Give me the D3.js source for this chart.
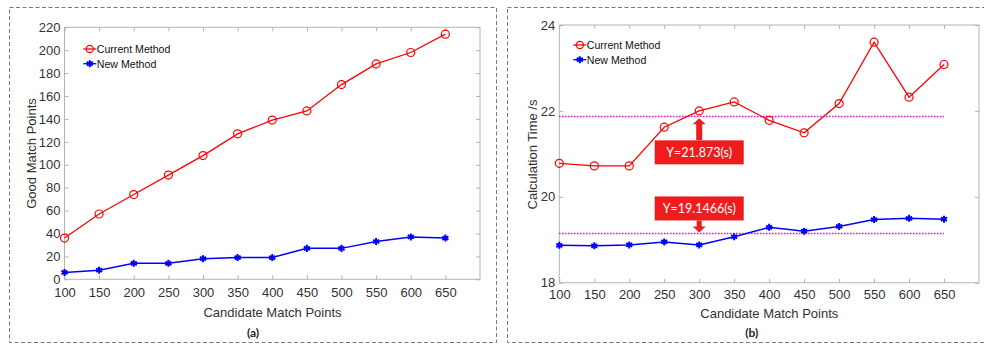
<!DOCTYPE html>
<html>
<head>
<meta charset="utf-8">
<script src="https://cdn.jsdelivr.net/npm/d3@7/dist/d3.min.js"></script>
<style>
  html, body { margin: 0; padding: 0; background: #fff; }
  svg { display: block; }
</style>
</head>
<body>
<svg id="chart" width="984" height="344"></svg>
<script>
// Candidate match points on the x axis (shared by both panels)
const candidatePoints = [100, 150, 200, 250, 300, 350, 400, 450, 500, 550, 600, 650];
const xTickLabels = [100, 150, 200, 250, 300, 350, 400, 450, 500, 550, 600, 650];

// Panel (a): good match points
const goodCurrent = [36, 57, 74, 91, 108, 127, 139, 147, 170, 188, 198, 214];
const goodNew = [6, 8, 14, 14, 18, 19, 19, 27, 27, 33, 37, 36];
const goodTicks = [0, 20, 40, 60, 80, 100, 120, 140, 160, 180, 200, 220];

// Panel (b): calculation time in seconds
const timeCurrent = [20.78, 20.72, 20.72, 21.62, 22.00, 22.21, 21.78, 21.49, 22.17, 23.60, 22.32, 23.08];
const timeNew = [18.87, 18.86, 18.88, 18.95, 18.88, 19.07, 19.29, 19.20, 19.31, 19.47, 19.50, 19.48];
const timeTicks = [18, 20, 22, 24];

// Average times marked on panel (b)
const timeCurrentMean = 21.873;
const timeNewMean = 19.1466;

const seriesNames = ["Current Method", "New Method"];

const svg = d3.select("#chart");
const RED = "#ff0000", BLUE = "#0000ff", AXIS = "#b4b4b4";
const TEXT_FONT = "'Liberation Sans', Arial, sans-serif";

// Dashed frames around the two sub-figures
svg.append("rect").attr("x", 9.5).attr("y", 7.5).attr("width", 487).attr("height", 335)
  .attr("fill", "none").attr("stroke", "#7a7a7a").attr("stroke-width", 1).attr("stroke-dasharray", "4,2.5");
svg.append("rect").attr("x", 507.5).attr("y", 7.5).attr("width", 490).attr("height", 335)
  .attr("fill", "none").attr("stroke", "#7a7a7a").attr("stroke-width", 1).attr("stroke-dasharray", "4,2.5");

function styleAxis(sel) {
  sel.attr("font-family", TEXT_FONT).attr("font-size", 13);
  sel.select(".domain").remove();
  sel.selectAll(".tick line").attr("stroke", AXIS);
  sel.selectAll(".tick text").attr("fill", "#333");
}

function drawPanel(cfg) {
  const g = svg.append("g");
  const x = d3.scaleLinear().domain([100, 700]).range([cfg.left, cfg.right]);
  const y = d3.scaleLinear().domain(cfg.yDomain).range([cfg.bottom, cfg.top]);
  const w = cfg.right - cfg.left, h = cfg.bottom - cfg.top;
  const fmt = d3.format("d");

  // plot box
  g.append("rect").attr("x", cfg.left).attr("y", cfg.top).attr("width", w).attr("height", h)
    .attr("fill", "#fff").attr("stroke", AXIS).attr("stroke-width", 1);

  // bottom axis with inward ticks
  g.append("g").attr("transform", `translate(0,${cfg.bottom})`)
    .call(d3.axisBottom(x).tickValues(xTickLabels).tickSizeInner(-4).tickSizeOuter(0).tickPadding(cfg.xPad).tickFormat(fmt))
    .call(styleAxis);

  // top ticks
  g.append("g").attr("transform", `translate(0,${cfg.top})`)
    .call(d3.axisTop(x).tickValues(xTickLabels).tickSizeInner(-4).tickSizeOuter(0).tickFormat(""))
    .call(styleAxis);

  // left axis
  g.append("g").attr("transform", `translate(${cfg.left},0)`)
    .call(d3.axisLeft(y).tickValues(cfg.yTicks).tickSizeInner(-4).tickSizeOuter(0).tickPadding(4).tickFormat(fmt))
    .call(styleAxis);

  // right ticks
  g.append("g").attr("transform", `translate(${cfg.right},0)`)
    .call(d3.axisRight(y).tickValues(cfg.yTicks).tickSizeInner(-4).tickSizeOuter(0).tickFormat(""))
    .call(styleAxis);

  // axis titles
  g.append("text").attr("x", cfg.xTitleX).attr("y", cfg.xTitleY)
    .attr("text-anchor", "middle").attr("font-family", TEXT_FONT).attr("font-size", 13).attr("fill", "#333")
    .text("Candidate Match Points");
  g.append("text").attr("transform", `translate(${cfg.yTitleX},${cfg.yTitleY}) rotate(-90)`)
    .attr("text-anchor", "middle").attr("dy", "0.35em").attr("font-family", TEXT_FONT).attr("font-size", 13).attr("fill", "#333")
    .text(cfg.yTitle);

  // sub-figure caption
  g.append("text").attr("x", cfg.captionX).attr("y", 336.5)
    .attr("text-anchor", "middle").attr("font-family", "Lato, 'Open Sans', sans-serif").attr("font-weight", "bold")
    .attr("font-size", 12).attr("fill", "#222").text(cfg.caption);

  // mean reference lines and callouts (drawn beneath the series)
  if (cfg.means) {
    cfg.means.forEach(m => {
      const my = y(m.value);
      const ly = Math.round(my) + 0.5;
      g.append("line").attr("x1", Math.round(x(100))).attr("x2", Math.round(x(650))).attr("y1", ly).attr("y2", ly)
        .attr("stroke", "#ff00ff").attr("stroke-width", 1.3).attr("stroke-dasharray", "1.5,1.5");
      const cx = x(m.at);
      const bw = 89, bh = 24;
      let boxTop, arrow;
      if (m.dir === "up") {
        const tip = my + 2, base = my + 8;
        boxTop = my + 24;
        arrow = [[cx, tip], [cx + 6.5, base], [cx + 3, base], [cx + 3, boxTop], [cx - 3, boxTop], [cx - 3, base], [cx - 6.5, base]];
      } else {
        const tip = my - 1, base = my - 7;
        boxTop = my - 13 - bh;
        const boxBot = boxTop + bh;
        arrow = [[cx, tip], [cx + 6.5, base], [cx + 2.5, base], [cx + 2.5, boxBot], [cx - 2.5, boxBot], [cx - 2.5, base], [cx - 6.5, base]];
      }
      g.append("path").attr("d", d3.line()(arrow) + "Z").attr("fill", "#ee1c1c");
      g.append("rect").attr("x", cx - bw / 2).attr("y", boxTop).attr("width", bw).attr("height", bh).attr("fill", "#ee1c1c");
      g.append("text").attr("x", cx).attr("y", boxTop + bh / 2).attr("dy", "0.36em").attr("text-anchor", "middle")
        .attr("font-family", "Lato, 'Open Sans', sans-serif").attr("font-size", 12.5).attr("fill", "#fff")
        .text(`Y=${m.value}(s)`);
    });
  }

  const line = d3.line().x((d, i) => x(candidatePoints[i])).y(d => y(d));
  // series lines
  g.append("path").datum(cfg.current).attr("d", line).attr("fill", "none").attr("stroke", RED).attr("stroke-width", 1.3);
  g.append("path").datum(cfg.newer).attr("d", line).attr("fill", "none").attr("stroke", BLUE).attr("stroke-width", 1.5);

  // markers
  g.selectAll(null).data(cfg.current).join("circle")
    .attr("cx", (d, i) => x(candidatePoints[i])).attr("cy", d => y(d)).attr("r", 4)
    .attr("fill", "none").attr("stroke", RED).attr("stroke-width", 1.2);
  const star = d3.symbol().type(d3.symbolAsterisk).size(34);
  g.selectAll(null).data(cfg.newer).join("path")
    .attr("transform", (d, i) => `translate(${x(candidatePoints[i])},${y(d)})`)
    .attr("d", star).attr("fill", "none").attr("stroke", BLUE).attr("stroke-width", 2);

  // legend
  const lg = g.append("g");
  seriesNames.forEach((name, i) => {
    const ly = cfg.legendY + i * 14.7;
    const col = i === 0 ? RED : BLUE;
    lg.append("line").attr("x1", cfg.legendX).attr("x2", cfg.legendX + 13).attr("y1", ly).attr("y2", ly)
      .attr("stroke", col).attr("stroke-width", 1.3);
    if (i === 0) {
      lg.append("circle").attr("cx", cfg.legendX + 6.5).attr("cy", ly).attr("r", 3.6)
        .attr("fill", "none").attr("stroke", col).attr("stroke-width", 1.2);
    } else {
      lg.append("path").attr("transform", `translate(${cfg.legendX + 6.5},${ly})`)
        .attr("d", star).attr("fill", "none").attr("stroke", col).attr("stroke-width", 2);
    }
    lg.append("text").attr("x", cfg.legendX + 13.5).attr("y", ly).attr("dy", "0.36em")
      .attr("font-family", TEXT_FONT).attr("font-size", 10.6).attr("fill", "#111").text(name);
  });
}

drawPanel({
  left: 64.5, right: 480, top: 27.3, bottom: 279.3,
  yDomain: [0, 220], yTicks: goodTicks,
  current: goodCurrent, newer: goodNew,
  yTitle: "Good Match Points", yTitleX: 31.7, yTitleY: 153.5,
  xTitleX: 272.5, xTitleY: 316.5, xPad: 8,
  caption: "(a)", captionX: 253,
  legendX: 83.3, legendY: 49
});

drawPanel({
  left: 559.3, right: 979, top: 25, bottom: 282.7,
  yDomain: [18, 24], yTicks: timeTicks,
  current: timeCurrent, newer: timeNew,
  yTitle: "Calculation Time /s", yTitleX: 532.7, yTitleY: 154.5,
  xTitleX: 769.3, xTitleY: 317.5, xPad: 7,
  caption: "(b)", captionX: 751.7,
  legendX: 573.3, legendY: 45,
  means: [
    { value: timeCurrentMean, at: 300, dir: "up" },
    { value: timeNewMean, at: 300, dir: "down" }
  ]
});
</script>
</body>
</html>
